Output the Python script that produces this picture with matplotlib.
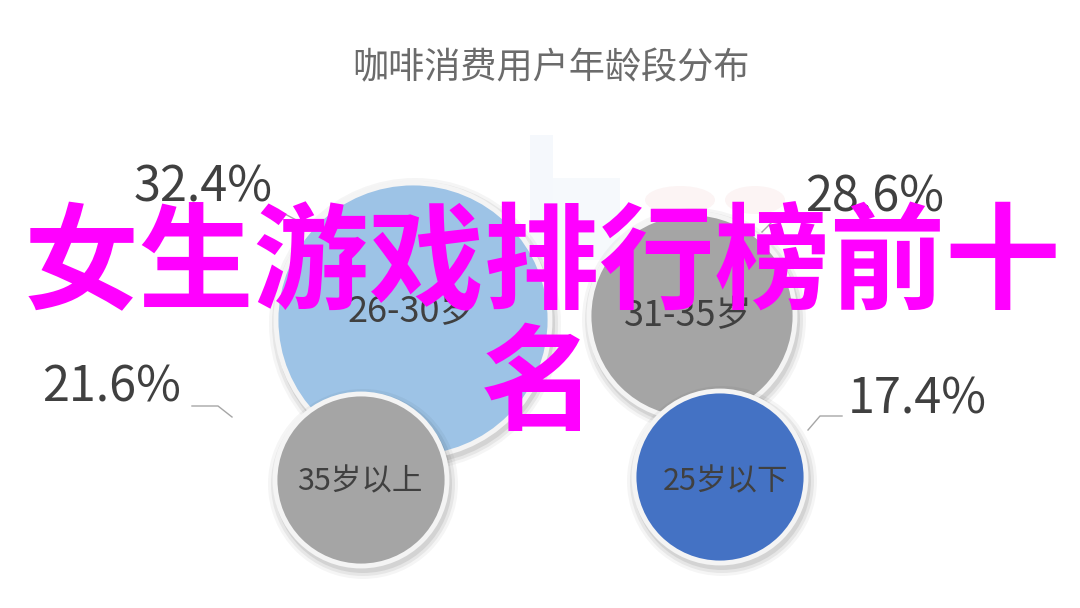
import matplotlib
matplotlib.use('Agg')
import matplotlib.pyplot as plt
from matplotlib.patches import Circle, Rectangle, Ellipse

plt.rcParams['font.family'] = ['Noto Sans CJK SC', 'DejaVu Sans']

# data
title = '咖啡消费用户年龄段分布'
age_groups = ['26-30岁', '31-35岁', '35岁以上', '25岁以下']
shares = [32.4, 28.6, 21.6, 17.4]
overlay_line1 = '女生游戏排行榜前十'
overlay_line2 = '名'

# layout (pixels, y down)
centers = [(413, 320), (692, 316), (361, 480), (720, 477)]
radii = [137, 103, 86, 86]
fills = ['#9dc3e6', '#a5a5a5', '#a5a5a5', '#4472c4']
name_pos = [(412, 312), (688, 316), (360, 482), (726, 482)]
name_size = [26, 26, 22, 22]
pct_pos = [(203, 188), (875, 198), (111, 388), (917, 400)]
leaders = [
    [(263, 212), (283, 213), (300, 222)],
    [(805, 222), (772, 222), (762, 232)],
    [(192, 406), (218, 406), (232, 417)],
    [(842, 416), (820, 416), (808, 430)],
]

fig = plt.figure(figsize=(10.8, 6.08), dpi=100)
ax = fig.add_axes([0, 0, 1, 1])
ax.set_xlim(0, 1080)
ax.set_ylim(608, 0)
ax.axis('off')

# faint watermark behind
ax.add_patch(Rectangle((530, 135), 23, 125, color='#f5f8fc', lw=0, zorder=0))
ax.add_patch(Rectangle((553, 178), 67, 82, color='#f6f9fc', lw=0, zorder=0))
ax.add_patch(Ellipse((680, 200), 70, 28, color='#fcf4f4', lw=0, zorder=0))
ax.add_patch(Ellipse((755, 200), 60, 28, color='#fcf4f4', lw=0, zorder=0))

ax.text(551, 68, title, ha='center', va='center', fontsize=26, color='#6b6b6b')

for i, grp in enumerate(age_groups):
    cx, cy = centers[i]
    r = radii[i]
    z = 2 + i
    # soft shadow
    for k, a in [(9, 0.04), (6, 0.06), (3, 0.08)]:
        ax.add_patch(Circle((cx + 2, cy + 4), r + k, color='#000000', alpha=a, lw=0, zorder=z))
    ax.add_patch(Circle((cx, cy), r, facecolor=fills[i], edgecolor='#f4f4f4', lw=3.5, zorder=z))
    ax.text(name_pos[i][0], name_pos[i][1], grp, ha='center', va='center',
            fontsize=name_size[i], color='#404040', zorder=z)

for i, v in enumerate(shares):
    ax.text(pct_pos[i][0], pct_pos[i][1], f'{v:.1f}%', ha='center', va='center',
            fontsize=35, color='#404040', zorder=10)
    xs = [p[0] for p in leaders[i]]
    ys = [p[1] for p in leaders[i]]
    ax.plot(xs, ys, color='#a6a6a6', lw=1, zorder=1.5)

ax.text(542, 268, overlay_line1, ha='center', va='center', fontsize=83,
        fontweight='bold', color='#ff00ff', zorder=20)
ax.text(538, 388, overlay_line2, ha='center', va='center', fontsize=83,
        fontweight='bold', color='#ff00ff', zorder=20)

fig.savefig('out.png', dpi=100, facecolor='white')
